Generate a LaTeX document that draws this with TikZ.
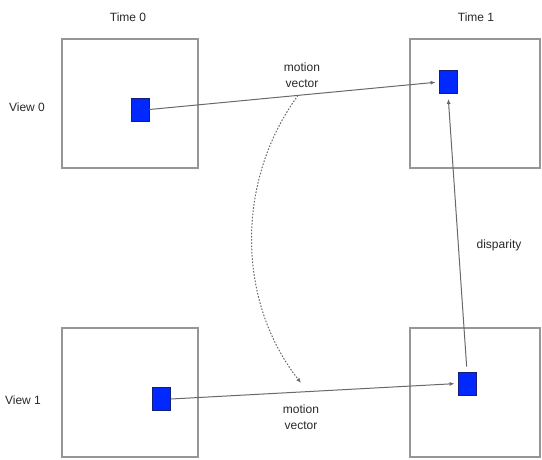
\documentclass[tikz,border=0pt]{standalone}
\usepackage{fontspec}
\setmainfont{Liberation Sans}
\usetikzlibrary{arrows.meta,calc}

\definecolor{framegray}{RGB}{150,150,150}
\definecolor{linegray}{RGB}{105,105,105}
\definecolor{txtgray}{RGB}{40,40,40}
\definecolor{blockfill}{RGB}{0,40,255}
\definecolor{blockedge}{RGB}{20,30,120}

\tikzset{
  frame/.style={draw=framegray, line width=1.4pt, minimum width=136pt,
    minimum height=129pt, inner sep=0pt},
  rframe/.style={frame, minimum width=130pt},
  block/.style={draw=blockedge, fill=blockfill, line width=0.8pt,
    minimum width=18pt, minimum height=23pt, inner sep=0pt},
  lbl/.style={text=txtgray, font=\fontsize{12}{16}\selectfont, align=center,
    inner sep=0pt},
  vec/.style={draw=linegray, line width=1pt,
    -{Latex[length=5pt,width=4pt]}, shorten >=3pt},
  swap/.style={draw=linegray, line width=1pt, dash pattern=on 1.6pt off 1.6pt,
    -{Latex[length=5pt,width=4pt]}},
}

\begin{document}
\begin{tikzpicture}[x=1pt,y=-1pt]
  \useasboundingbox (0,0) rectangle (542,459);

  % picture frames: rows are views, columns are time instants
  \node[frame]  (f00) at (130,103.5) {};
  \node[rframe] (f01) at (475,103.5) {};
  \node[frame]  (f10) at (130,392.5) {};
  \node[rframe] (f11) at (475,392.5) {};

  % matching blocks
  \node[block] (b00) at (140,109.5) {};
  \node[block] (b01) at (448,82) {};
  \node[block] (b10) at (161.5,399) {};
  \node[block] (b11) at (467,383.5) {};

  % row and column headings
  \node[lbl] (t0) at (128,17) {Time 0};
  \node[lbl] (t1) at (476,17) {Time 1};
  \node[lbl] (v0) at (27,107) {View 0};
  \node[lbl] (v1) at (23,400) {View 1};

  % motion vectors and disparity
  \draw[vec] (b00.east) -- (b01.west);
  \draw[vec] (b10.east) -- (b11.west);
  \draw[vec, shorten <=5pt, shorten >=5pt] (b11.north) -- (b01.south);

  \node[lbl] (mv0) at (302,75) {motion\\vector};
  \node[lbl] (mv1) at (301,417) {motion\\vector};
  \node[lbl] (disp) at (499,245) {disparity};

  % reuse of the view-0 motion vector in view 1
  \coordinate (mvtop) at ($(b00.east)!0.514!(b01.west)$);
  \coordinate (mvbot) at (301,383);
  \draw[swap] (mvtop) .. controls (236,180) and (236,300) .. (mvbot);
\end{tikzpicture}
\end{document}
